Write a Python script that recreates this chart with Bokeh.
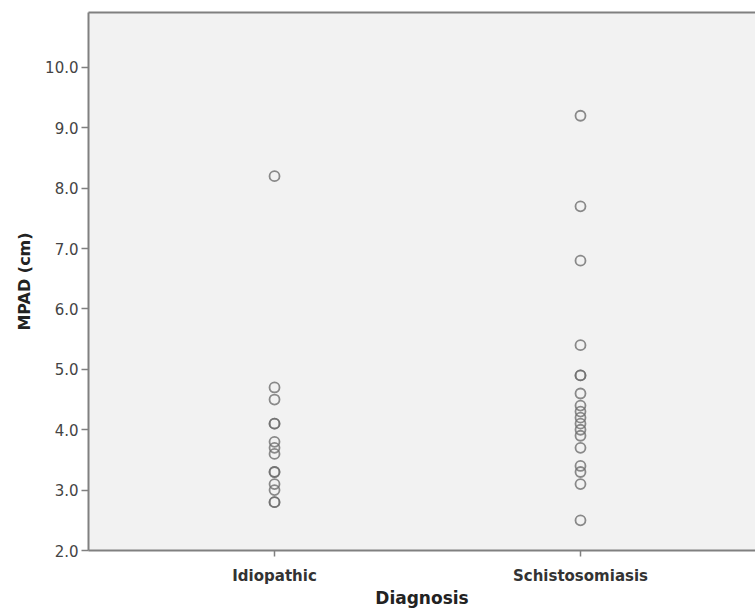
from bokeh.plotting import figure
from bokeh.models import Range1d, FixedTicker, PrintfTickFormatter, LinearAxis, ColumnDataSource
from bokeh.embed import file_html
from bokeh.resources import INLINE

categories = ["Idiopathic", "Schistosomiasis"]
idiopathic_mpad = [8.2, 4.7, 4.5, 4.1, 4.1, 3.8, 3.7, 3.6, 3.3, 3.3, 3.1, 3.0, 2.8, 2.8]
schisto_mpad = [9.2, 7.7, 6.8, 5.4, 4.9, 4.9, 4.6, 4.4, 4.3, 4.2, 4.1, 4.0, 3.9, 3.7, 3.4, 3.3, 3.1, 2.5]
y_ticks = [2.0, 3.0, 4.0, 5.0, 6.0, 7.0, 8.0, 9.0, 10.0]

xs, ys = [], []
for i, vals in enumerate([idiopathic_mpad, schisto_mpad]):
    xs += [i + 1] * len(vals)
    ys += vals
src = ColumnDataSource(dict(x=xs, y=ys))

FONT = "DejaVu Sans"
AX = "#808080"

p = figure(width=755, height=610, output_backend="svg", toolbar_location=None,
           x_range=Range1d(0.392, 2.572), y_range=Range1d(2.0, 10.91),
           min_border_left=88, min_border_right=0, min_border_top=12, min_border_bottom=59,
           background_fill_color="#f2f2f2", border_fill_color="white")
p.outline_line_color = None
p.grid.visible = False

p.scatter("x", "y", source=src, size=10, marker="circle", fill_color=None,
          line_color="#6e6e6e", line_width=1.8, line_alpha=0.8)

# x axis
xa = p.xaxis[0]
xa.ticker = FixedTicker(ticks=[1, 2])
xa.major_label_overrides = {i + 1: c for i, c in enumerate(categories)}
xa.minor_tick_line_color = None
xa.major_tick_in = 0
xa.major_tick_out = 6
xa.axis_line_color = AX
xa.axis_line_width = 2
xa.major_tick_line_color = AX
xa.major_tick_line_width = 1.5
xa.major_label_text_font = FONT
xa.major_label_text_font_size = "15px"
xa.major_label_text_font_style = "bold"
xa.major_label_text_color = "#333333"
xa.major_label_standoff = 10
xa.axis_label = "Diagnosis"
xa.axis_label_text_font = FONT
xa.axis_label_text_font_size = "17px"
xa.axis_label_text_font_style = "bold"
xa.axis_label_text_color = "#222222"
xa.axis_label_standoff = 0

# y axis
ya = p.yaxis[0]
ya.ticker = FixedTicker(ticks=y_ticks)
ya.formatter = PrintfTickFormatter(format="%.1f")
ya.minor_tick_line_color = None
ya.major_tick_in = 0
ya.major_tick_out = 7
ya.axis_line_color = AX
ya.axis_line_width = 2
ya.major_tick_line_color = AX
ya.major_tick_line_width = 1.5
ya.major_label_text_font = FONT
ya.major_label_text_font_size = "15px"
ya.major_label_text_color = "#444444"
ya.major_label_standoff = 3
ya.axis_label = "MPAD (cm)"
ya.axis_label_text_font = FONT
ya.axis_label_text_font_size = "16px"
ya.axis_label_text_font_style = "bold"
ya.axis_label_text_color = "#222222"
ya.axis_label_standoff = 8

# top border line
top = LinearAxis(ticker=FixedTicker(ticks=[]), axis_line_color=AX, axis_line_width=2,
                 major_tick_out=0, major_tick_in=0, minor_tick_line_color=None,
                 major_label_text_font_size="0px", major_label_standoff=0)
p.add_layout(top, "above")

open("out.html", "w").write(file_html(p, INLINE))
